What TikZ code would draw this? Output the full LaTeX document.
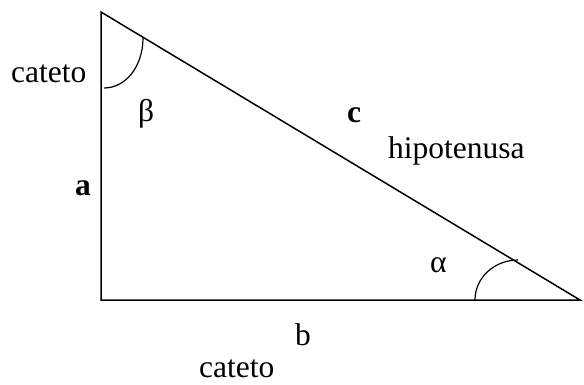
\documentclass[tikz,border=0pt]{standalone}
\usepackage{fontspec}
\setmainfont{Liberation Serif}
\begin{document}
\begin{tikzpicture}[x=1pt,y=-1pt,
  edge/.style={line width=1.5pt},
  anglearc/.style={line width=1.2pt},
  lbl/.style={inner sep=0pt,anchor=base west,font=\fontsize{31.5}{36}\selectfont},
  blbl/.style={lbl,font=\fontsize{31.5}{36}\selectfont\bfseries}]
\useasboundingbox (0,0) rectangle (584,384);
\coordinate (A) at (101,12);
\coordinate (B) at (101,300);
\coordinate (C) at (580,300);
\draw[edge,line join=miter] (A) -- (B) -- (C) -- cycle;
\coordinate (b1) at (104,88);
\coordinate (b2) at (143,38);
\draw[anglearc] (b1) .. controls (126,88) and (143,66) .. (b2);
\coordinate (a1) at (475,300);
\coordinate (a2) at (518,260);
\draw[anglearc] (a1) .. controls (475,278) and (494,260) .. (a2);
\node[lbl] (catL) at (11,82) {cateto};
\node[lbl] (beta) at (138,121) {β};
\node[blbl] (c) at (347,122) {c};
\node[lbl] (hip) at (388,158) {hipotenusa};
\node[blbl] (a) at (75,195) {a};
\node[lbl] (alpha) at (430,272) {α};
\node[lbl] (b) at (295,345) {b};
\node[lbl] (catB) at (199,377) {cateto};
\end{tikzpicture}
\end{document}
